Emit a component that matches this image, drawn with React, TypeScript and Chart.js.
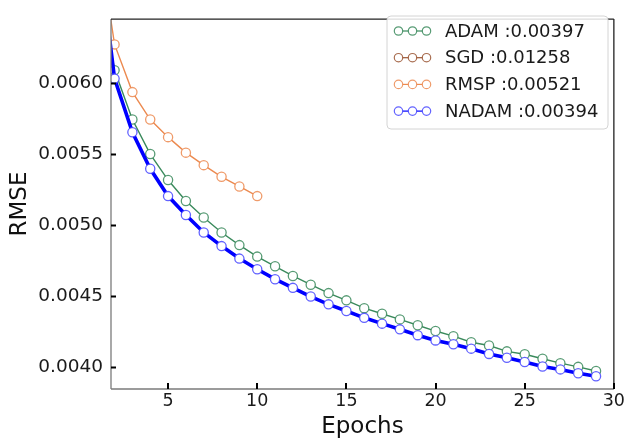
import React, { useEffect, useRef } from "react";
import { Chart, registerables } from "chart.js";

Chart.register(...registerables);

const epochs = [1, 2, 3, 4, 5, 6, 7, 8, 9, 10, 11, 12, 13, 14, 15, 16, 17, 18, 19, 20, 21, 22, 23, 24, 25, 26, 27, 28, 29];
const rmspEpochs = [1, 2, 3, 4, 5, 6, 7, 8, 9, 10];

const adamValues = [
  0.0068, 0.006091, 0.005744, 0.005501, 0.005318, 0.00517, 0.005054, 0.004949, 0.00486, 0.004779,
  0.004711, 0.004643, 0.004581, 0.004522, 0.004471, 0.004416, 0.004377, 0.004337, 0.004296, 0.004255,
  0.004219, 0.004176, 0.004153, 0.004112, 0.004092, 0.00406, 0.004029, 0.004003, 0.003974,
];
const sgdValues = [
  0.0185, 0.0176, 0.0169, 0.0163, 0.0158, 0.0154, 0.0150, 0.0147, 0.0144, 0.0142,
  0.0140, 0.0138, 0.0136, 0.0135, 0.0134, 0.0133, 0.0132, 0.0131, 0.0130, 0.01295,
  0.0129, 0.01285, 0.0128, 0.01276, 0.01272, 0.01268, 0.01264, 0.01261, 0.01258,
];
const rmspValues = [0.0071, 0.006273, 0.005937, 0.005744, 0.00562, 0.005511, 0.005423, 0.005341, 0.005273, 0.005205];
const nadamValues = [
  0.00705, 0.006032, 0.005654, 0.005397, 0.005205, 0.005072, 0.004949, 0.004853, 0.004765, 0.00469,
  0.00462, 0.004559, 0.004498, 0.004443, 0.004396, 0.004348, 0.004307, 0.004267, 0.004226, 0.004189,
  0.004162, 0.004131, 0.004094, 0.004067, 0.004037, 0.004005, 0.003985, 0.003958, 0.003937,
];

const seriesNames = ["ADAM", "SGD", "RMSP", "NADAM"];
const seriesScores = ["0.00397", "0.01258", "0.00521", "0.00394"];
const seriesLineColors = ["#3a8a5c", "#9a5533", "#ec8a50", "#0000ff"];
const seriesMarkerColors = ["rgba(58,138,92,0.85)", "rgba(154,85,51,0.85)", "rgba(236,138,80,0.85)", "rgba(70,70,255,0.85)"];

const xTicks = [5, 10, 15, 20, 25, 30];
const yTicks = [0.004, 0.0045, 0.005, 0.0055, 0.006];

const FONT = "'DejaVu Sans', sans-serif";

const decorPlugin = {
  id: "decor",
  afterDatasetsDraw(chart: any) {
    const { ctx, chartArea: a, scales } = chart;
    const line = (x1: number, y1: number, x2: number, y2: number) => {
      ctx.beginPath();
      ctx.moveTo(x1, y1);
      ctx.lineTo(x2, y2);
      ctx.stroke();
    };
    ctx.save();
    ctx.lineWidth = 1.3;
    ctx.strokeStyle = "#7a7a7a";
    line(a.left, a.top, a.left, a.bottom);
    line(a.left, a.bottom, a.right, a.bottom);
    ctx.strokeStyle = "#222";
    line(a.left, a.top, a.right, a.top);
    line(a.right, a.top, a.right, a.bottom);

    ctx.strokeStyle = "#000";
    ctx.lineWidth = 2;
    yTicks.forEach((v) => {
      const py = Math.round(scales.y.getPixelForValue(v)) + 0.5;
      line(a.left, py, a.left + 5, py);
    });
    xTicks.forEach((v) => {
      const px = Math.round(scales.x.getPixelForValue(v));
      line(px, a.bottom, px, a.bottom - 6);
    });

    // legend
    const bx = 387, by = 16, bw = 221, bh = 113, r = 4;
    ctx.beginPath();
    ctx.moveTo(bx + r, by);
    ctx.lineTo(bx + bw - r, by);
    ctx.arcTo(bx + bw, by, bx + bw, by + r, r);
    ctx.lineTo(bx + bw, by + bh - r);
    ctx.arcTo(bx + bw, by + bh, bx + bw - r, by + bh, r);
    ctx.lineTo(bx + r, by + bh);
    ctx.arcTo(bx, by + bh, bx, by + bh - r, r);
    ctx.lineTo(bx, by + r);
    ctx.arcTo(bx, by, bx + r, by, r);
    ctx.closePath();
    ctx.fillStyle = "rgba(255,255,255,0.85)";
    ctx.fill();
    ctx.lineWidth = 1;
    ctx.strokeStyle = "#d4d4d4";
    ctx.stroke();

    ctx.font = `18px ${FONT}`;
    ctx.textBaseline = "middle";
    ctx.textAlign = "left";
    seriesNames.forEach((name, i) => {
      const cy = 31 + i * 26.7;
      ctx.strokeStyle = seriesLineColors[i];
      ctx.lineWidth = 1.2;
      line(398.5, cy, 426.5, cy);
      [398.5, 412.5, 426.5].forEach((cx) => {
        ctx.beginPath();
        ctx.arc(cx, cy, 4.2, 0, Math.PI * 2);
        ctx.fillStyle = "#fff";
        ctx.fill();
        ctx.strokeStyle = seriesMarkerColors[i];
        ctx.lineWidth = 1.2;
        ctx.stroke();
      });
      ctx.fillStyle = "#1a1a1a";
      ctx.fillText(`${name} :${seriesScores[i]}`, 445, cy + 1);
    });
    ctx.restore();
  },
};

export default function App() {
  const ref = useRef<HTMLCanvasElement | null>(null);

  useEffect(() => {
    if (!ref.current) return;
    Chart.defaults.font.family = FONT;
    const mk = (i: number, xs: number[], ys: number[], width: number, radius: number, order: number) => ({
      label: seriesNames[i],
      data: xs.map((x, k) => ({ x, y: ys[k] })),
      borderColor: seriesLineColors[i],
      borderWidth: width,
      pointRadius: radius,
      pointBorderWidth: 1.3,
      pointBorderColor: seriesMarkerColors[i],
      pointBackgroundColor: "#ffffff",
      tension: 0,
      fill: false,
      order,
    });
    const chart = new Chart(ref.current, {
      type: "line",
      data: {
        datasets: [
          mk(0, epochs, adamValues, 1.4, 4.6, 4),
          mk(1, epochs, sgdValues, 1.4, 4.6, 3),
          mk(2, rmspEpochs, rmspValues, 1.4, 4.6, 2),
          mk(3, epochs, nadamValues, 3.6, 4.6, 1),
        ] as any,
      },
      options: {
        animation: false,
        responsive: false,
        maintainAspectRatio: false,
        layout: { padding: { left: 0, right: 11, top: 6, bottom: 0 } },
        plugins: { legend: { display: false }, tooltip: { enabled: false } },
        scales: {
          x: {
            type: "linear",
            min: 1.8,
            max: 30,
            afterBuildTicks: (s: any) => {
              s.ticks = xTicks.map((v) => ({ value: v }));
            },
            afterFit: (s: any) => {
              s.height = 52;
            },
            grid: { display: false, drawTicks: false },
            border: { display: false },
            ticks: {
              font: { size: 17.5 },
              color: "#1a1a1a",
              padding: 2,
              maxRotation: 0,
              autoSkip: false,
              callback: (v: any) => String(v),
            },
            title: {
              display: true,
              text: "Epochs",
              font: { size: 23 },
              color: "#111",
              padding: { top: 0, bottom: 0 },
            },
          },
          y: {
            type: "linear",
            min: 0.003847,
            max: 0.006451,
            afterBuildTicks: (s: any) => {
              s.ticks = yTicks.map((v) => ({ value: v }));
            },
            afterFit: (s: any) => {
              s.width = 111;
            },
            grid: { display: false, drawTicks: false },
            border: { display: false },
            ticks: {
              font: { size: 18.5 },
              color: "#1a1a1a",
              padding: 8,
              autoSkip: false,
              callback: (v: any) => Number(v).toFixed(4),
            },
            title: {
              display: true,
              text: "RMSE",
              font: { size: 23 },
              color: "#111",
              padding: { top: 6, bottom: 0 },
            },
          },
        },
      } as any,
      plugins: [decorPlugin],
    });
    return () => chart.destroy();
  }, []);

  return (
    <div style={{ position: "fixed", left: 0, top: 0, width: 627, height: 441, background: "#fff" }}>
      <canvas ref={ref} width={627} height={441} />
    </div>
  );
}
